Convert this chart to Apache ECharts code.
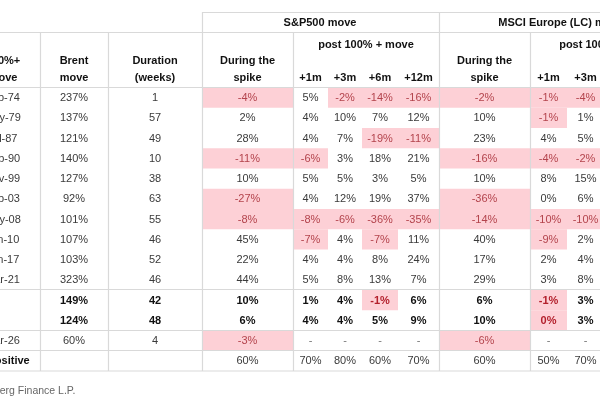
<!DOCTYPE html>
<html>
<head>
<meta charset="utf-8">
<script src="https://cdn.jsdelivr.net/npm/echarts@6/dist/echarts.min.js"></script>
<style>
  html, body { margin: 0; padding: 0; background: #fff; }
  #table-chart { width: 600px; height: 400px; }
</style>
</head>
<body>
<div id="table-chart"></div>
<script>
// rows: start of each 100%+ Brent move
var rowLabels = ['Feb-74', 'May-79', 'Jul-87', 'Sep-90', 'Nov-99', 'Feb-03', 'May-08', 'Jan-10', 'Jan-17', 'Mar-21'];
var brentMove = [237, 137, 121, 140, 127, 92, 101, 107, 103, 323];
var durationWeeks = [1, 57, 49, 10, 38, 63, 55, 46, 52, 46];

// S&P500 move (%)
var spxSpike = [-4, 2, 28, -11, 10, -27, -8, 45, 22, 44];
var spx1m = [5, 4, 4, -6, 5, 4, -8, -7, 4, 5];
var spx3m = [-2, 10, 7, 3, 5, 12, -6, 4, 4, 8];
var spx6m = [-14, 7, -19, 18, 3, 19, -36, -7, 8, 13];
var spx12m = [-16, 12, -11, 21, 5, 37, -35, 11, 24, 7];

// MSCI Europe (LC) move (%)
var euSpike = [-2, 10, 23, -16, 10, -36, -14, 40, 17, 29];
var eu1m = [-1, -1, 4, -4, 8, 0, -10, -9, 2, 3];
var eu3m = [-4, 1, 5, -2, 15, 6, -10, 2, 4, 8];

// summary rows, same column order: brent, duration, spx spike, +1m, +3m, +6m, +12m, eu spike, +1m, +3m
var averageRow = [149, 42, 10, 1, 4, -1, 6, 6, -1, 3];
var medianRow = [124, 48, 6, 4, 4, 5, 9, 10, -0.5, 3]; // eu +1m shows 0% but is shaded as negative
var latestLabel = 'Mar-26';
var latestRow = [60, 4, -3, null, null, null, null, -6, null, null];
var pctPositive = [null, null, 60, 70, 80, 60, 70, 60, 50, 70];

// header texts
var groupHeaders = ['S&P500 move', 'MSCI Europe (LC) move'];
var subGroupHeader = 'post 100% + move';
var horizonLabels = ['+1m', '+3m', '+6m', '+12m'];

// layout: column edges in page pixels (first column is cropped on the left)
var colEdges = [[-35, 40], [40, 108], [108, 202], [202, 293], [293, 328], [328, 362], [362, 398], [398, 439], [439, 530], [530, 567], [567, 604]];
var lineColor = '#d9d9d9';
var pinkFill = '#fdd0d6';
var textColor = '#3a3a3a';
var negColor = '#b3434c';
var fontFamily = '"Liberation Sans", Arial, Helvetica, sans-serif';

var chart = echarts.init(document.getElementById('table-chart'));

// 把所有单元格整理成一维列表
var valueCols = [brentMove, durationWeeks, spxSpike, spx1m, spx3m, spx6m, spx12m, euSpike, eu1m, eu3m];
var allLabels = rowLabels.concat(['Average', 'Median', latestLabel, '% positive']);
var cells = [];

function fmt(col, v) {
    var r = Math.round(v) || 0;
    return col === 2 ? String(r) : r + '%';   // duration column has no % sign
}

for (var r = 0; r < allLabels.length; r++) {
    var summary = (r === 10 || r === 11);
    cells.push({ col: 0, row: r, text: allLabels[r], bold: summary || r === 13, neg: false, alignRight: summary });
    for (var c = 0; c < valueCols.length; c++) {
        var v, text;
        if (r < 10) v = valueCols[c][r];
        else if (r === 10) v = averageRow[c];
        else if (r === 11) v = medianRow[c];
        else if (r === 12) v = latestRow[c];
        else v = pctPositive[c];

        if (v === null) text = (r === 12) ? '-' : '';
        else text = fmt(c + 1, v);

        cells.push({
            col: c + 1,
            row: r,
            text: text,
            bold: summary,
            neg: r !== 13 && c >= 2 && v !== null && v < 0,
            dash: v === null
        });
    }
}

function renderCell(params, api) {
    var cell = cells[params.dataIndex];
    var edge = colEdges[cell.col];
    var left = api.coord([edge[0], cell.row]);
    var right = api.coord([edge[1], cell.row]);
    var h = api.size([0, 1])[1];
    var children = [];
    if (cell.neg) {
        children.push({
            type: 'rect',
            shape: { x: left[0], y: left[1] - h / 2, width: right[0] - left[0], height: h },
            style: { fill: pinkFill }
        });
    }
    var color = cell.neg ? negColor : (cell.dash ? '#777' : textColor);
    if (cell.bold) color = cell.neg ? '#b3202c' : '#111';
    children.push({
        type: 'text',
        style: {
            text: cell.text,
            x: cell.alignRight ? (left[0] + right[0]) / 2 - 4 : (left[0] + right[0]) / 2,
            y: left[1] + 0.5,
            textAlign: cell.alignRight ? 'right' : 'center',
            textVerticalAlign: 'middle',
            font: (cell.bold ? 'bold ' : '') + '11px ' + fontFamily,
            fill: color
        }
    });
    return { type: 'group', children: children };
}

// 表头与表格线
var graphics = [];
function hline(y, x1, x2) {
    graphics.push({ type: 'line', shape: { x1: x1, y1: y, x2: x2, y2: y }, style: { stroke: lineColor, lineWidth: 1.2 }, z: 10 });
}
function vline(x, y1, y2) {
    graphics.push({ type: 'line', shape: { x1: x, y1: y1, x2: x, y2: y2 }, style: { stroke: lineColor, lineWidth: 1.2 }, z: 10 });
}
function headText(str, x, y, align, weight, color, size) {
    graphics.push({
        type: 'text',
        style: {
            text: str, x: x, y: y,
            textAlign: align || 'center',
            textVerticalAlign: 'middle',
            font: (weight || 'bold') + ' ' + (size || 11) + 'px ' + fontFamily,
            fill: color || '#111'
        },
        z: 10
    });
}

hline(12.5, 202, 600);
hline(32.5, 0, 600);
hline(87.5, 0, 600);
hline(289.5, 0, 600);
hline(330.5, 0, 600);
hline(350.5, 0, 600);
hline(371, 0, 600);
vline(40.5, 32, 371);
vline(108.5, 32, 371);
vline(202.5, 12, 371);
vline(293.5, 32, 371);
vline(439.5, 12, 371);
vline(530.5, 32, 371);

headText(groupHeaders[0], 320, 23);
headText(groupHeaders[1], 561, 23);
headText(subGroupHeader, 366, 45);
headText(subGroupHeader, 607, 45);
headText('100%+', 3, 61);
headText('move', 3, 78);
headText('Brent', 74, 61);
headText('move', 74, 78);
headText('Duration', 155, 61);
headText('(weeks)', 155, 78);
headText('During the', 247.5, 61);
headText('spike', 247.5, 78);
headText('During the', 484.5, 61);
headText('spike', 484.5, 78);
for (var i = 0; i < horizonLabels.length; i++) {
    headText(horizonLabels[i], (colEdges[4 + i][0] + colEdges[4 + i][1]) / 2, 78);
}
headText(horizonLabels[0], (colEdges[9][0] + colEdges[9][1]) / 2, 78);
headText(horizonLabels[1], (colEdges[10][0] + colEdges[10][1]) / 2, 78);
headText('Source: Bloomberg Finance L.P.', -75, 391, 'left', 'normal', '#666', 10.5);

var option = {
    animation: false,
    grid: { left: 0, right: 0, top: 87.5, bottom: 29 },
    xAxis: { type: 'value', min: 0, max: 600, show: false },
    yAxis: {
        type: 'category',
        inverse: true,
        data: allLabels,
        show: false
    },
    series: [{
        type: 'custom',
        clip: false,
        renderItem: renderCell,
        data: cells.map(function (d) { return [d.col, d.row]; })
    }],
    graphic: graphics
};

chart.setOption(option, true);

window.addEventListener('resize', function () {
    chart.resize();
});
</script>
</body>
</html>
